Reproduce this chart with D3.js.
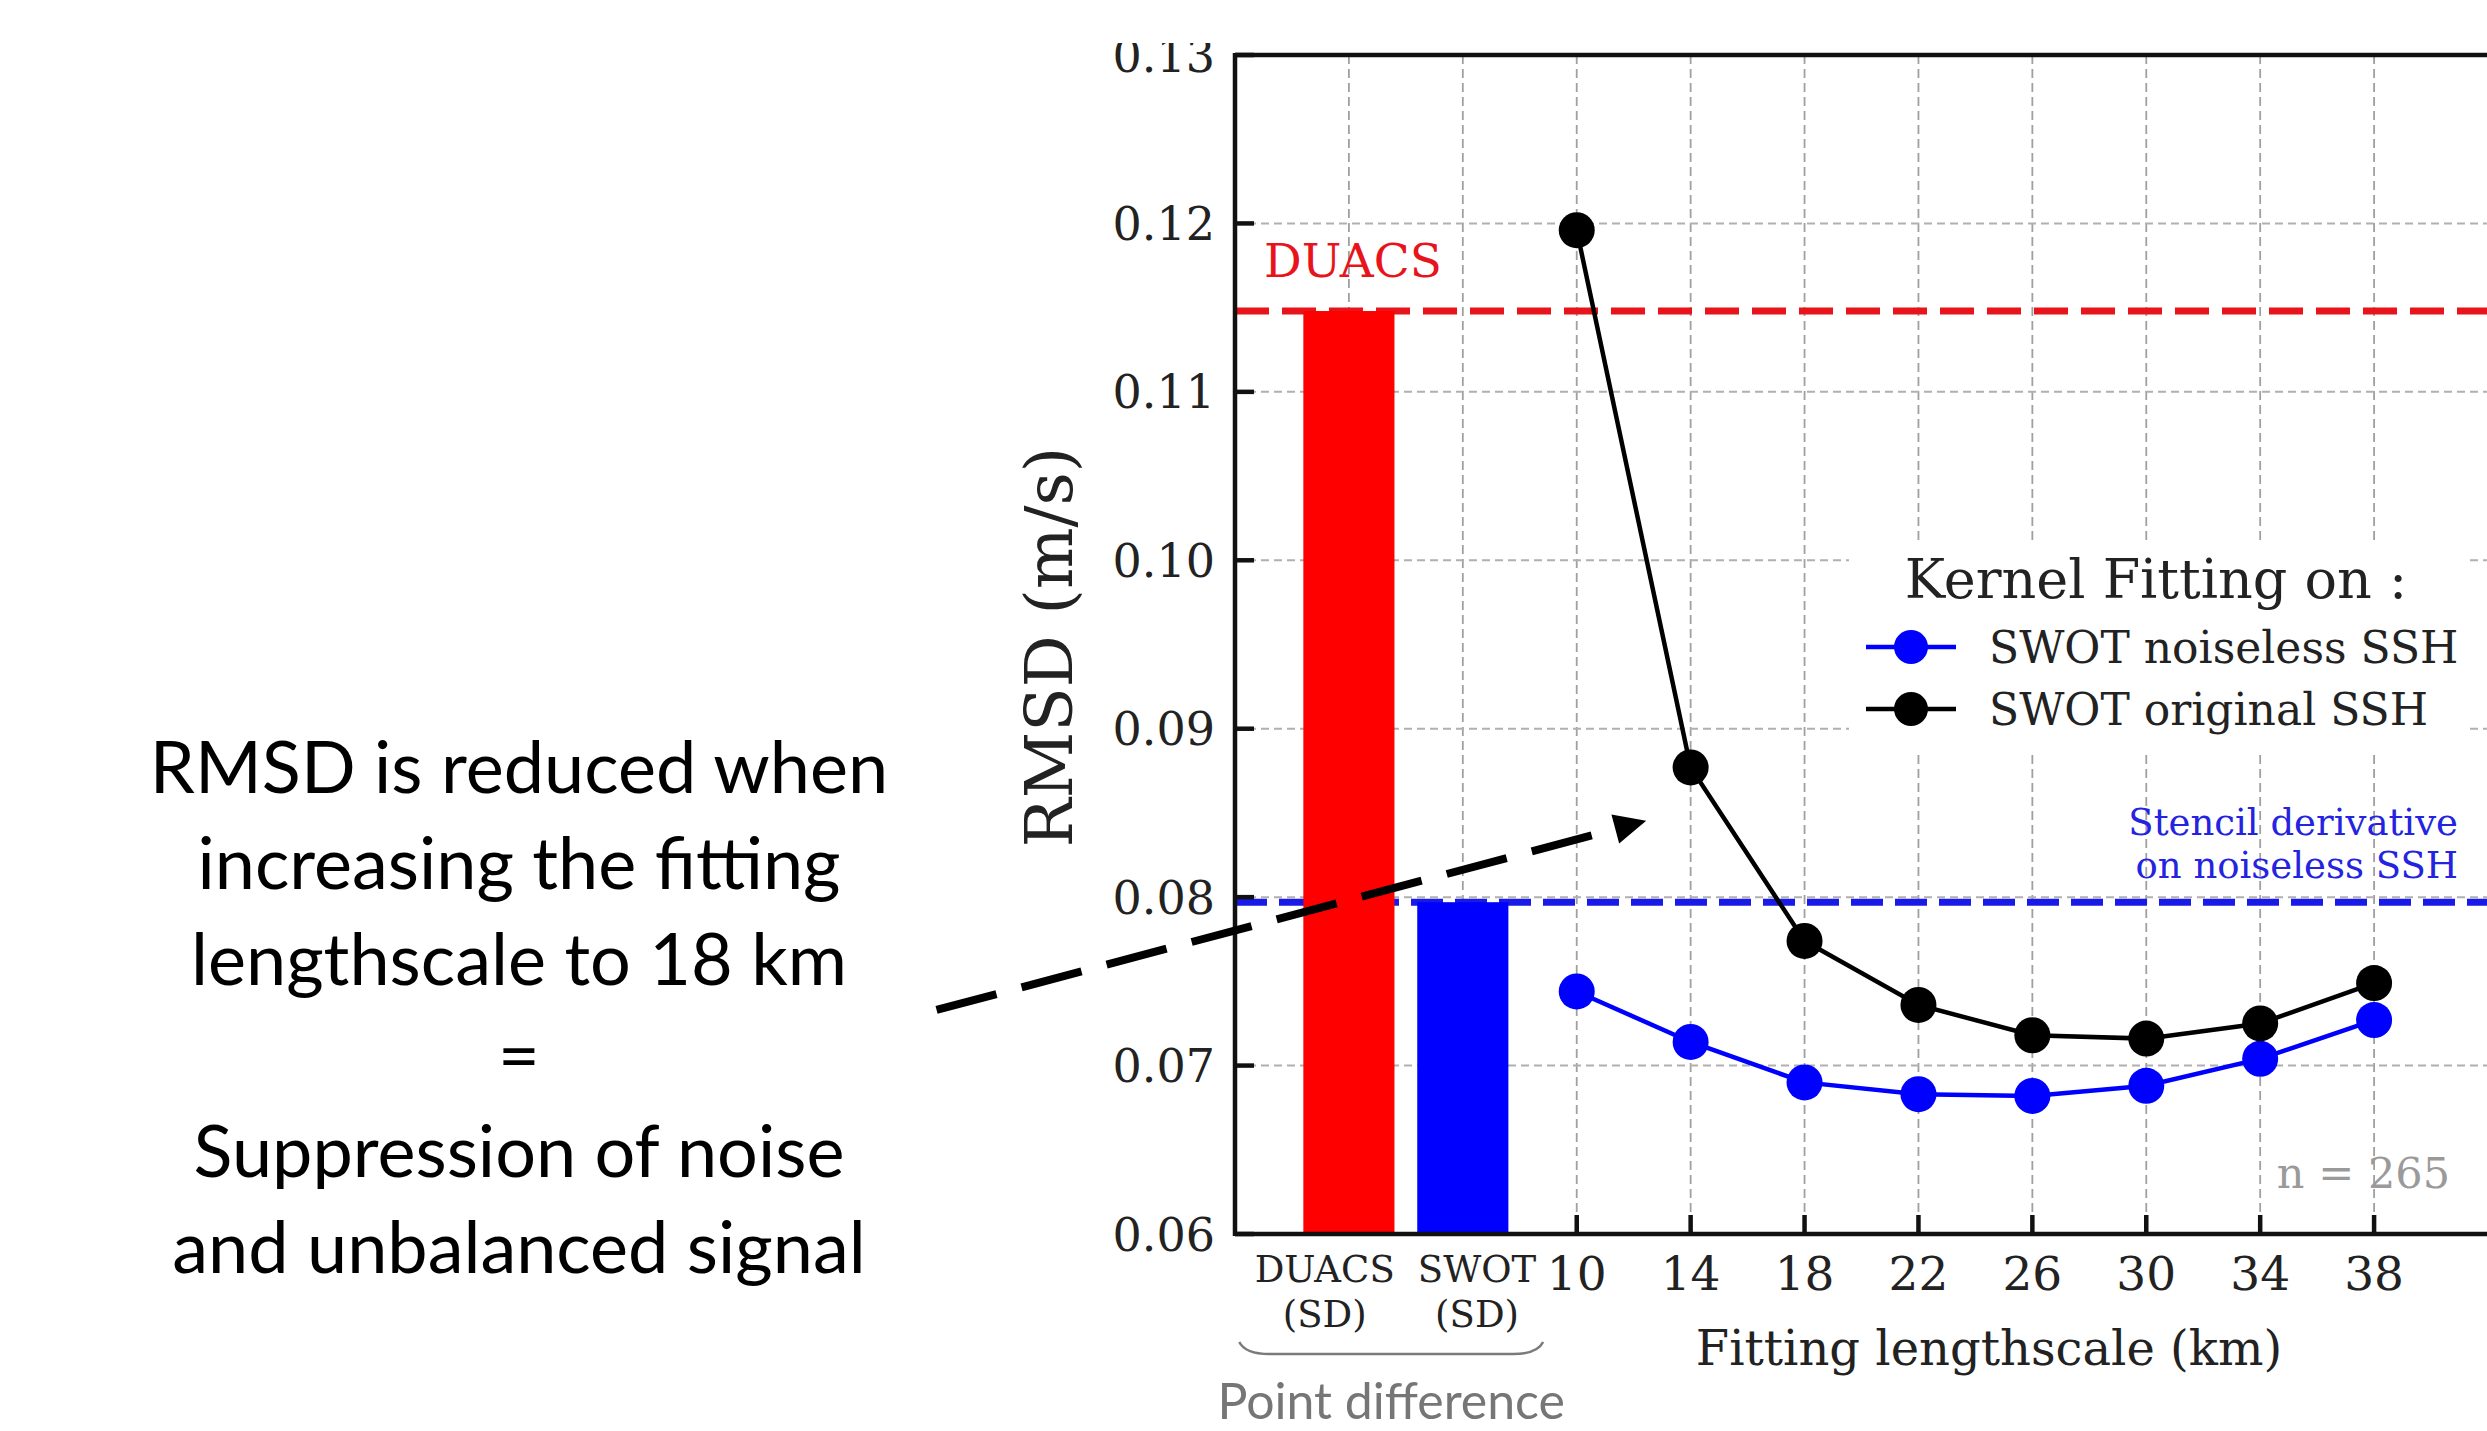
<!DOCTYPE html>
<html>
<head>
<meta charset="utf-8">
<script src="https://cdn.jsdelivr.net/npm/d3@7"></script>
<style>
  html, body { margin: 0; padding: 0; background: #fff; }
  svg { display: block; }
</style>
</head>
<body>
<svg id="chart" width="2487" height="1431"></svg>
<script>
/* RMSD vs fitting lengthscale, with point-difference bars and reference lines */
(function () {
  'use strict';

  // ---- data ----
  var lengthscales = [10, 14, 18, 22, 26, 30, 34, 38];
  var rmsdOriginal = [0.1196, 0.0877, 0.0774, 0.0736, 0.0718, 0.0716, 0.0725, 0.0749];
  var rmsdNoiseless = [0.0744, 0.0714, 0.0690, 0.0683, 0.0682, 0.0688, 0.0704, 0.0727];

  var barNames = ['DUACS', 'SWOT'];
  var barSlots = [2, 6];              // x positions on the km axis
  var barValues = [0.1148, 0.0797];
  var barColors = ['#ff0000', '#0000ff'];

  var duacsRef = 0.1148;
  var stencilRef = 0.0797;

  var yTicks = [0.06, 0.07, 0.08, 0.09, 0.10, 0.11, 0.12, 0.13];
  var nSamples = 265;

  var noteLines = [
    'RMSD is reduced when',
    'increasing the fitting',
    'lengthscale to 18 km',
    '=',
    'Suppression of noise',
    'and unbalanced signal'
  ];

  // ---- layout ----
  var plot = { left: 1235, right: 2488, top: 55, bottom: 1234 };
  var serif = '"DejaVu Serif", serif';
  var sans = 'Lato, "Open Sans", sans-serif';

  var svg = d3.select('#chart');

  var x = d3.scaleLinear().domain([-2, 42]).range([plot.left, plot.right]);
  var y = d3.scaleLinear().domain([0.06, 0.13]).range([plot.bottom, plot.top]);

  var gridG = svg.append('g');
  var allSlots = barSlots.concat(lengthscales);

  // grid
  gridG.selectAll('line.vg').data(allSlots).enter().append('line')
    .attr('x1', function (d) { return x(d); }).attr('x2', function (d) { return x(d); })
    .attr('y1', plot.top).attr('y2', plot.bottom)
    .attr('stroke', '#a0a0a0').attr('stroke-width', 1.8).attr('stroke-dasharray', '9,5');
  gridG.selectAll('line.hg').data(yTicks.slice(1, -1)).enter().append('line')
    .attr('x1', plot.left).attr('x2', plot.right)
    .attr('y1', function (d) { return y(d); }).attr('y2', function (d) { return y(d); })
    .attr('stroke', '#b0b0b0').attr('stroke-width', 2).attr('stroke-dasharray', '8,5');

  // reference lines
  svg.append('line')
    .attr('x1', plot.left).attr('x2', plot.right)
    .attr('y1', y(duacsRef)).attr('y2', y(duacsRef))
    .attr('stroke', '#e8141c').attr('stroke-width', 7).attr('stroke-dasharray', '34,13');
  svg.append('line')
    .attr('x1', plot.left).attr('x2', plot.right)
    .attr('y1', y(stencilRef)).attr('y2', y(stencilRef))
    .attr('stroke', '#1a1ae8').attr('stroke-width', 7).attr('stroke-dasharray', '32,12');

  // bars
  var bw = 3.2;
  svg.selectAll('rect.bar').data(barValues).enter().append('rect')
    .attr('x', function (d, i) { return x(barSlots[i] - bw / 2); })
    .attr('width', x(bw) - x(0))
    .attr('y', function (d) { return y(d); })
    .attr('height', function (d) { return plot.bottom - y(d); })
    .attr('fill', function (d, i) { return barColors[i]; });

  // legend box (white, hides grid)
  svg.append('rect')
    .attr('x', 1849).attr('y', 543).attr('width', 620).attr('height', 210)
    .attr('fill', '#fff');

  // series lines
  function drawSeries(vals, color) {
    var pts = vals.map(function (v, i) { return [lengthscales[i], v]; });
    svg.append('path')
      .attr('d', d3.line().x(function (d) { return x(d[0]); }).y(function (d) { return y(d[1]); })(pts))
      .attr('fill', 'none').attr('stroke', color).attr('stroke-width', 4.5);
    svg.append('g').selectAll('circle').data(pts).enter().append('circle')
      .attr('cx', function (d) { return x(d[0]); })
      .attr('cy', function (d) { return y(d[1]); })
      .attr('r', 18).attr('fill', color);
  }
  drawSeries(rmsdNoiseless, '#0000ff');
  drawSeries(rmsdOriginal, '#000000');

  // spines
  svg.append('line').attr('x1', plot.left).attr('x2', plot.left)
    .attr('y1', plot.top - 2).attr('y2', plot.bottom + 2)
    .attr('stroke', '#111').attr('stroke-width', 4.5);
  svg.append('line').attr('x1', plot.left).attr('x2', plot.right)
    .attr('y1', plot.bottom).attr('y2', plot.bottom)
    .attr('stroke', '#111').attr('stroke-width', 4.5);
  svg.append('line').attr('x1', plot.left).attr('x2', plot.right)
    .attr('y1', plot.top).attr('y2', plot.top)
    .attr('stroke', '#111').attr('stroke-width', 4.5);

  // y ticks
  var yt = svg.append('g');
  yt.selectAll('line').data(yTicks).enter().append('line')
    .attr('x1', plot.left).attr('x2', plot.left + 19)
    .attr('y1', function (d) { return y(d); }).attr('y2', function (d) { return y(d); })
    .attr('stroke', '#111').attr('stroke-width', 4.5);
  yt.selectAll('text').data(yTicks).enter().append('text')
    .attr('x', plot.left - 20).attr('y', function (d) { return y(d); })
    .attr('dy', '0.36em').attr('text-anchor', 'end')
    .attr('font-family', serif).attr('font-size', 46).attr('fill', '#222')
    .text(function (d) { return d3.format('.2f')(d); });

  // x ticks
  var xt = svg.append('g');
  xt.selectAll('line').data(lengthscales).enter().append('line')
    .attr('x1', function (d) { return x(d); }).attr('x2', function (d) { return x(d); })
    .attr('y1', plot.bottom).attr('y2', plot.bottom - 19)
    .attr('stroke', '#111').attr('stroke-width', 4.5);
  xt.selectAll('text').data(lengthscales).enter().append('text')
    .attr('x', function (d) { return x(d); }).attr('y', 1290)
    .attr('text-anchor', 'middle')
    .attr('font-family', serif).attr('font-size', 47).attr('fill', '#222')
    .text(function (d) { return d; });

  // category labels under the bars
  var catShift = [-0.85, 0.5];
  barNames.forEach(function (name, i) {
    var t = svg.append('text')
      .attr('text-anchor', 'middle')
      .attr('font-family', serif).attr('font-size', 37).attr('fill', '#222');
    t.append('tspan').attr('x', x(barSlots[i] + catShift[i])).attr('y', 1282).text(name);
    t.append('tspan').attr('x', x(barSlots[i] + catShift[i])).attr('y', 1327).text('(SD)');
  });

  // axis titles
  svg.append('text')
    .attr('x', 1989).attr('y', 1365).attr('text-anchor', 'middle')
    .attr('font-family', serif).attr('font-size', 48).attr('fill', '#222')
    .text('Fitting lengthscale (km)');
  svg.append('text')
    .attr('transform', 'translate(1072,647) rotate(-90)')
    .attr('text-anchor', 'middle')
    .attr('font-family', serif).attr('font-size', 65).attr('fill', '#222')
    .text('RMSD (m/s)');

  // in-plot labels
  svg.append('text')
    .attr('x', 1264).attr('y', 277)
    .attr('font-family', serif).attr('font-size', 47).attr('fill', '#e8141c')
    .text('DUACS');
  var st = svg.append('text')
    .attr('text-anchor', 'end')
    .attr('font-family', serif).attr('font-size', 37).attr('fill', '#2424e0');
  st.append('tspan').attr('x', 2458).attr('y', 835).text('Stencil derivative');
  st.append('tspan').attr('x', 2458).attr('y', 878).text('on noiseless SSH');
  svg.append('text')
    .attr('x', 2450).attr('y', 1188).attr('text-anchor', 'end')
    .attr('font-family', serif).attr('font-size', 43).attr('fill', '#9a9a9a')
    .text('n = ' + nSamples);

  // legend
  var lg = svg.append('g');
  lg.append('text')
    .attr('x', 2156).attr('y', 598).attr('text-anchor', 'middle')
    .attr('font-family', serif).attr('font-size', 54).attr('fill', '#222')
    .text('Kernel Fitting on :');
  var legendItems = [
    { label: 'SWOT noiseless SSH', color: '#0000ff', y: 647 },
    { label: 'SWOT original SSH', color: '#000000', y: 709 }
  ];
  legendItems.forEach(function (it) {
    lg.append('line').attr('x1', 1866).attr('x2', 1956)
      .attr('y1', it.y).attr('y2', it.y)
      .attr('stroke', it.color).attr('stroke-width', 4.5);
    lg.append('circle').attr('cx', 1911).attr('cy', it.y).attr('r', 17).attr('fill', it.color);
    lg.append('text').attr('x', 1989).attr('y', it.y).attr('dy', '0.36em')
      .attr('font-family', serif).attr('font-size', 44).attr('fill', '#222')
      .text(it.label);
  });

  // clip top of the 0.13 label like the cropped figure
  svg.append('rect').attr('x', 1060).attr('y', 0).attr('width', 170).attr('height', 43).attr('fill', '#fff');

  // brace + caption under the category bars
  var bx0 = x(-1.85), bx1 = x(8.82), by0 = 1342, by1 = 1354;
  svg.append('path')
    .attr('d', 'M' + bx0 + ',' + by0 +
      ' Q' + (bx0 + 6) + ',' + by1 + ' ' + (bx0 + 30) + ',' + by1 +
      ' L' + (bx1 - 30) + ',' + by1 +
      ' Q' + (bx1 - 6) + ',' + by1 + ' ' + bx1 + ',' + by0)
    .attr('fill', 'none').attr('stroke', '#7a7a7a').attr('stroke-width', 2.5);
  svg.append('text')
    .attr('x', (bx0 + bx1) / 2).attr('y', 1419).attr('text-anchor', 'middle')
    .attr('font-family', sans).attr('font-size', 50).attr('fill', '#767676')
    .text('Point difference');

  // annotation text
  var note = svg.append('text')
    .attr('text-anchor', 'middle')
    .attr('font-family', sans).attr('font-size', 72).attr('fill', '#000');
  noteLines.forEach(function (s, i) {
    note.append('tspan').attr('x', 519).attr('y', 793 + i * 96).text(s);
  });

  // dashed arrow (in data coordinates)
  var a0 = [x(-12.48), y(0.0733)], a1 = [x(12.44), y(0.08453)];
  var ang = Math.atan2(a1[1] - a0[1], a1[0] - a0[0]);
  var headLen = 32, headW = 15;
  var base = [a1[0] - headLen * Math.cos(ang), a1[1] - headLen * Math.sin(ang)];
  svg.append('line')
    .attr('x1', a0[0]).attr('y1', a0[1]).attr('x2', base[0]).attr('y2', base[1])
    .attr('stroke', '#000').attr('stroke-width', 8).attr('stroke-dasharray', '62,26');
  svg.append('path')
    .attr('d', 'M' + a1[0] + ',' + a1[1] +
      ' L' + (base[0] + headW * Math.sin(ang)) + ',' + (base[1] - headW * Math.cos(ang)) +
      ' L' + (base[0] - headW * Math.sin(ang)) + ',' + (base[1] + headW * Math.cos(ang)) + 'Z')
    .attr('fill', '#000');
})();
</script>
</body>
</html>
